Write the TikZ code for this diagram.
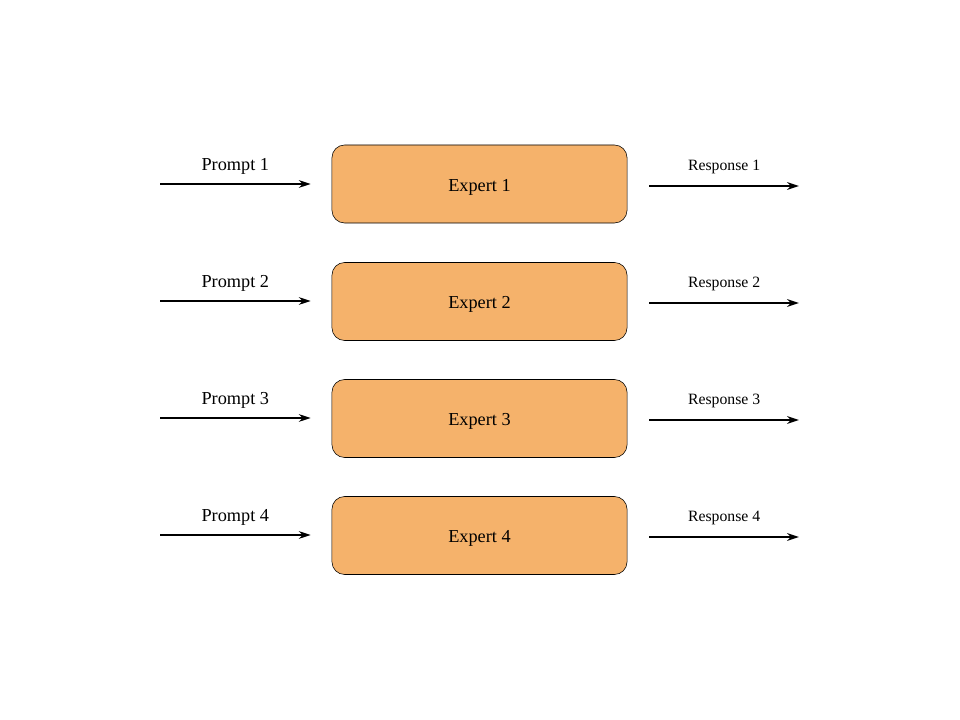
\documentclass[tikz,border=0pt]{standalone}
\usepackage{fontspec}
\usetikzlibrary{arrows.meta}
\setmainfont{Liberation Serif}
\definecolor{expertorange}{RGB}{245,178,107}
\begin{document}
\begin{tikzpicture}[x=0.025cm, y=-0.025cm,
    expert/.style={draw, rounded corners=9pt, minimum width=7.375cm, minimum height=1.95cm, fill=expertorange, text height=13pt, text depth=2.5pt, font=\fontsize{13}{15}\selectfont},
    flow/.style={-{Stealth[length=8.5pt, width=5.5pt]}, line width=1.3pt},
    prompt/.style={above=3pt, font=\fontsize{13}{15}\selectfont},
    response/.style={above=4.5pt, font=\fontsize{11.2}{13}\selectfont}]
        \useasboundingbox (0,0) rectangle (960,720);

        \node[expert] (expert1) at (479.5,184) {Expert 1};
        \node[expert] (expert2) at (479.5,301.5) {Expert 2};
        \node[expert] (expert3) at (479.5,418.5) {Expert 3};
        \node[expert] (expert4) at (479.5,535.5) {Expert 4};

        \coordinate (in1) at (160,184);
        \coordinate (in2) at (160,301);
        \coordinate (in3) at (160,418);
        \coordinate (in4) at (160,535);
        \coordinate (out1) at (799,186);
        \coordinate (out2) at (799,303);
        \coordinate (out3) at (799,420);
        \coordinate (out4) at (799,537);

        \draw[flow] (in1) -- ([xshift=-0.525cm]expert1.west |- in1) node[midway, prompt] {Prompt 1};
        \draw[flow] (in2) -- ([xshift=-0.525cm]expert2.west |- in2) node[midway, prompt] {Prompt 2};
        \draw[flow] (in3) -- ([xshift=-0.525cm]expert3.west |- in3) node[midway, prompt] {Prompt 3};
        \draw[flow] (in4) -- ([xshift=-0.525cm]expert4.west |- in4) node[midway, prompt] {Prompt 4};

        \draw[flow] ([xshift=0.55cm]expert1.east |- out1) -- (out1) node[midway, response] {Response 1};
        \draw[flow] ([xshift=0.55cm]expert2.east |- out2) -- (out2) node[midway, response] {Response 2};
        \draw[flow] ([xshift=0.55cm]expert3.east |- out3) -- (out3) node[midway, response] {Response 3};
        \draw[flow] ([xshift=0.55cm]expert4.east |- out4) -- (out4) node[midway, response] {Response 4};
    \end{tikzpicture}
\end{document}
